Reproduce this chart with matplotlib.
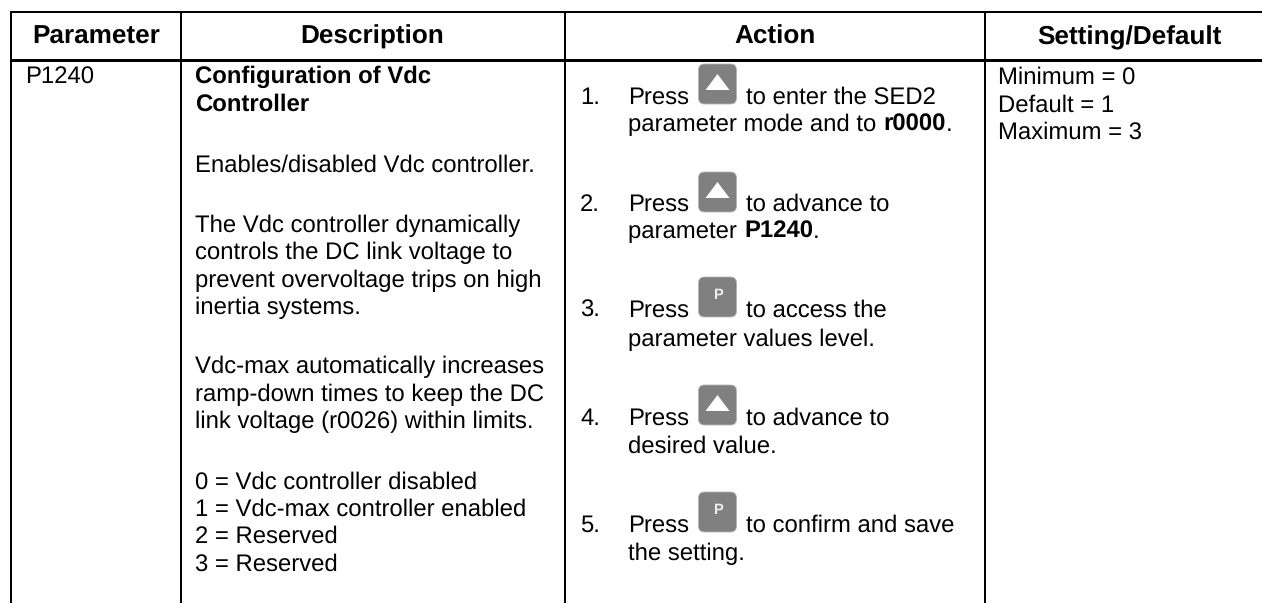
import matplotlib
matplotlib.use('Agg')
import matplotlib.pyplot as plt
from matplotlib.patches import FancyBboxPatch, Polygon

W, H = 1262, 603
plt.rcParams['font.family'] = ['Liberation Sans', 'DejaVu Sans']
plt.rcParams['text.hinting'] = 'no_hinting'

headers = ['Parameter', 'Description', 'Action', 'Setting/Default']
header_x = [96, 372, 775, 1129]
col_lines = [11, 180.5, 565, 985]

param = 'P1240'
desc_lines = [
    ('Configuration of Vdc', 83, True),
    ('Controller', 111, True),
    ('Enables/disabled Vdc controller.', 172, False),
    ('The Vdc controller dynamically', 232, False),
    ('controls the DC link voltage to', 259, False),
    ('prevent overvoltage trips on high', 287, False),
    ('inertia systems.', 314, False),
    ('Vdc-max automatically increases', 373, False),
    ('ramp-down times to keep the DC', 401, False),
    ('link voltage (r0026) within limits.', 428, False),
    ('0 = Vdc controller disabled', 489, False),
    ('1 = Vdc-max controller enabled', 516, False),
    ('2 = Reserved', 543, False),
    ('3 = Reserved', 571, False),
]
settings = [('Minimum = 0', 84), ('Default = 1', 112), ('Maximum = 3', 139)]

# number, baseline, key, text after key, key top, second baseline, second line parts
steps = [
    ('1.', 104, 'up', 'to enter the SED2', 64, 131, [('parameter mode and to ', False), ('r0000', True), ('.', False)]),
    ('2.', 211, 'up', 'to advance to', 172, 238, [('parameter ', False), ('P1240', True), ('.', False)]),
    ('3.', 317, 'p', 'to access the', 277, 346, [('parameter values level.', False)]),
    ('4.', 425, 'up', 'to advance to', 385, 453, [('desired value.', False)]),
    ('5.', 532, 'p', 'to confirm and save', 492, 560, [('the setting.', False)]),
]

fig = plt.figure(figsize=(W / 100, H / 100), dpi=100)
ax = fig.add_axes([0, 0, 1, 1])
ax.set_xlim(0, W)
ax.set_ylim(H, 0)
ax.axis('off')

FS = 17.2
lw = 2.0 * 0.72

# grid, no right border in the source
ax.plot([col_lines[0], W], [11.5, 11.5], color='k', lw=lw, solid_capstyle='butt')
ax.plot([col_lines[0], W], [60, 60], color='k', lw=3 * 0.72, solid_capstyle='butt')
for x in col_lines:
    ax.plot([x, x], [11, H], color='k', lw=lw, solid_capstyle='butt')

for h, x in zip(headers, header_x):
    ax.text(x, 44, h, ha='center', va='baseline', fontsize=18.8, fontweight='bold')

ax.text(25, 84, param, va='baseline', fontsize=FS)
for s, y, b in desc_lines:
    ax.text(195, y, s, va='baseline', fontsize=FS, fontweight='bold' if b else 'normal')
for s, y in settings:
    ax.text(998, y, s, va='baseline', fontsize=FS)

renderer = fig.canvas.get_renderer()


def draw_key(kind, cx, top):
    box = FancyBboxPatch((cx - 15, top + 4), 30, 32, boxstyle='round,pad=4,rounding_size=6',
                         fc='#808080', ec='#b4b4b4', lw=0.6, zorder=3)
    ax.add_patch(box)
    if kind == 'up':
        ax.add_patch(Polygon([(cx - 12, top + 26), (cx + 12, top + 26), (cx, top + 10)],
                             fc='white', ec='none', zorder=4))
    else:
        ax.text(cx, top + 18, 'P', color='#eeeeee', fontsize=10.5, fontweight='bold',
                ha='center', va='center', zorder=4)


for num, y1, kind, after, top, y2, parts in steps:
    ax.text(580, y1, num, va='baseline', fontsize=FS)
    ax.text(628.5, y1, 'Press', va='baseline', fontsize=FS)
    draw_key(kind, 717.5, top)
    ax.text(746.5, y1, after, va='baseline', fontsize=FS)
    x = 628.5
    for s, b in parts:
        t = ax.text(x, y2, s, va='baseline', fontsize=FS, fontweight='bold' if b else 'normal')
        x = t.get_window_extent(renderer).x1

fig.savefig('out.png', dpi=100)
